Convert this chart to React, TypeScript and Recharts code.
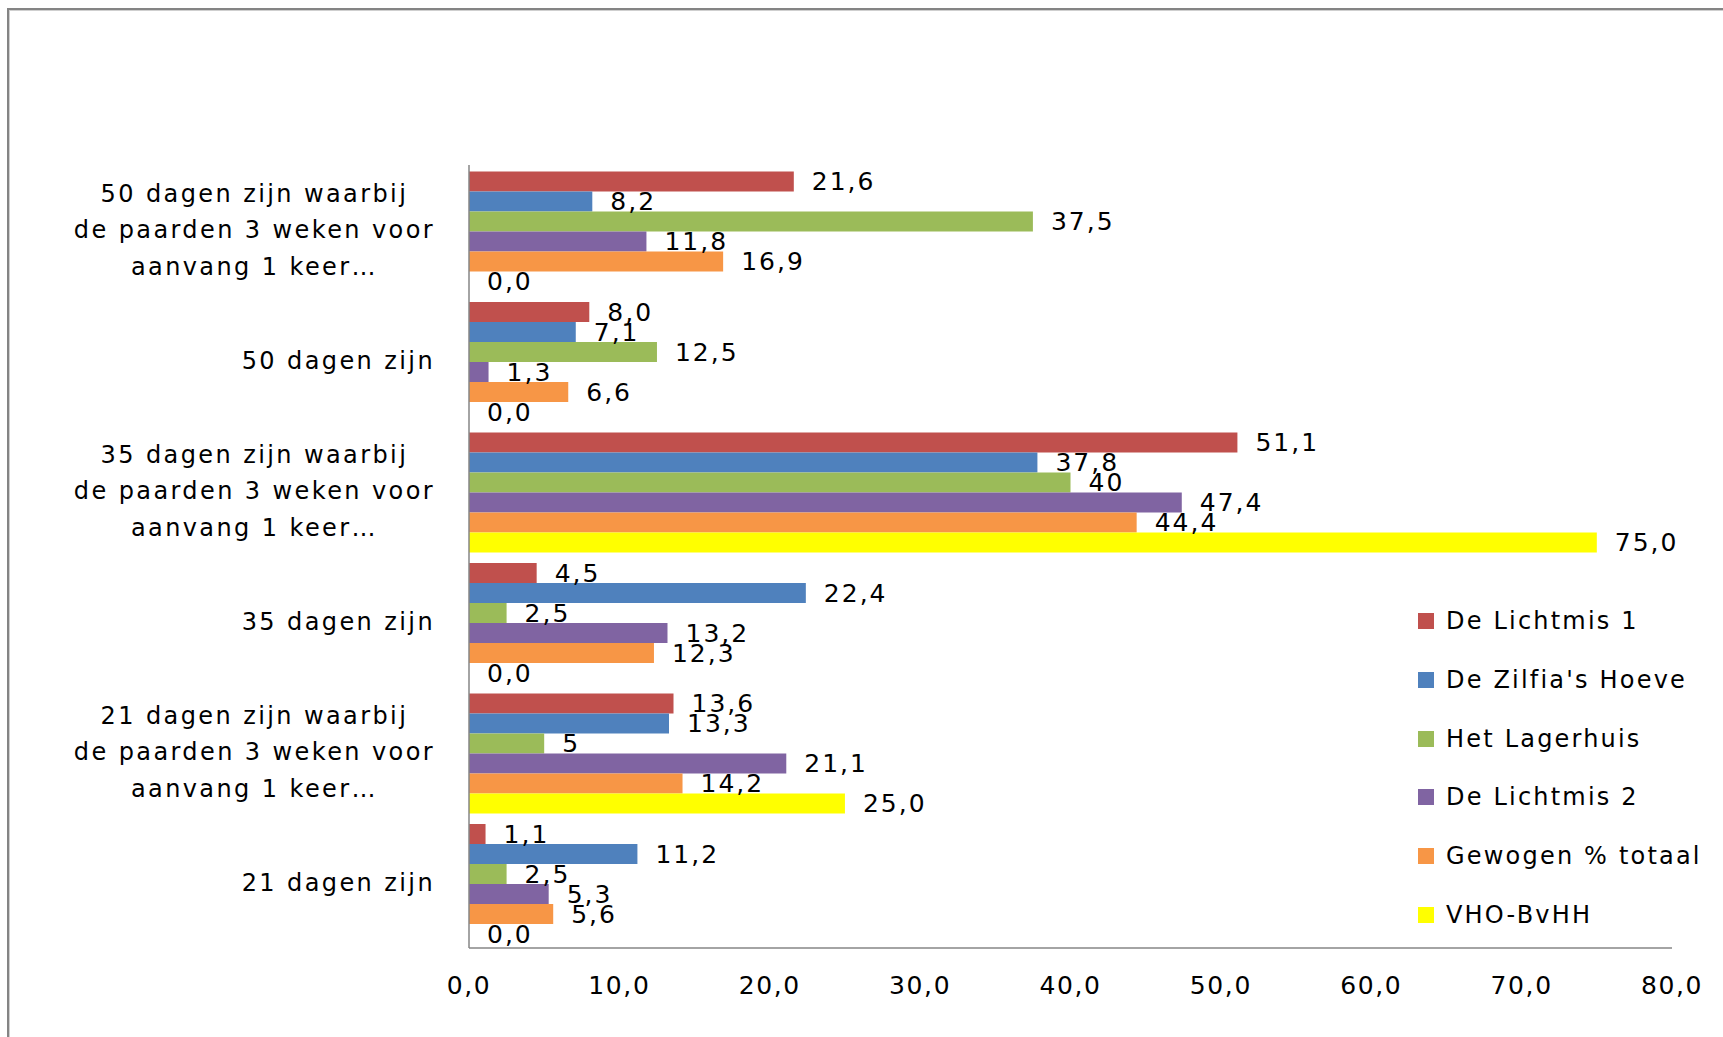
import { BarChart, Bar, XAxis, YAxis, Legend, LabelList } from 'recharts';

const categories = [
  '50 dagen zijn waarbij\nde paarden 3 weken voor\naanvang 1 keer…',
  '50 dagen zijn',
  '35 dagen zijn waarbij\nde paarden 3 weken voor\naanvang 1 keer…',
  '35 dagen zijn',
  '21 dagen zijn waarbij\nde paarden 3 weken voor\naanvang 1 keer…',
  '21 dagen zijn',
];

const lichtmis1 = [21.6, 8.0, 51.1, 4.5, 13.6, 1.1];
const zilfia = [8.2, 7.1, 37.8, 22.4, 13.3, 11.2];
const lagerhuis = [37.5, 12.5, 40, 2.5, 5, 2.5];
const lagerhuisLabels = ['37,5', '12,5', '40', '2,5', '5', '2,5'];
const lichtmis2 = [11.8, 1.3, 47.4, 13.2, 21.1, 5.3];
const gewogen = [16.9, 6.6, 44.4, 12.3, 14.2, 5.6];
const vho = [0.0, 0.0, 75.0, 0.0, 25.0, 0.0];

const xTicks = [0, 10, 20, 30, 40, 50, 60, 70, 80];

const series = [
  { key: 's1', name: 'De Lichtmis 1', color: '#C0504D', values: lichtmis1 },
  { key: 's2', name: "De Zilfia's Hoeve", color: '#4F81BD', values: zilfia },
  { key: 's3', name: 'Het Lagerhuis', color: '#9BBB59', values: lagerhuis, labels: lagerhuisLabels },
  { key: 's4', name: 'De Lichtmis 2', color: '#8064A2', values: lichtmis2 },
  { key: 's5', name: 'Gewogen % totaal', color: '#F79646', values: gewogen },
  { key: 's6', name: 'VHO-BvHH', color: '#FFFF00', values: vho },
];

const FONT = 'DejaVu Sans, Verdana, sans-serif';
const fmt = (v: number) => v.toFixed(1).replace('.', ',');

const data = categories.map((name, i) => {
  const row: Record<string, any> = { name };
  series.forEach((s) => {
    row[s.key] = s.values[i];
    row[s.key + '_label'] = s.labels ? s.labels[i] : fmt(s.values[i]);
  });
  return row;
});

let canvas: HTMLCanvasElement | null = null;
function textWidth(text: string, size: number, spacing: number) {
  if (!canvas) canvas = document.createElement('canvas');
  const ctx = canvas.getContext('2d')!;
  ctx.font = `${size}px "DejaVu Sans"`;
  return ctx.measureText(text).width + spacing * text.length;
}

function YTick({ x, y, payload }: any) {
  const lines = String(payload.value).split('\n');
  const size = 24;
  const spacing = 2.4;
  const lineH = 36.3;
  const blockW = Math.max(...lines.map((l) => textWidth(l, size, spacing)));
  const cx = x - blockW / 2;
  const y0 = y - ((lines.length - 1) * lineH) / 2;
  return (
    <g>
      {lines.map((l, i) => (
        <text
          key={i}
          x={cx}
          y={y0 + i * lineH}
          textAnchor="middle"
          dominantBaseline="central"
          fontFamily={FONT}
          fontSize={size}
          letterSpacing={spacing}
          fill="#000"
        >
          {l}
        </text>
      ))}
    </g>
  );
}

function XTick({ x, y, payload }: any) {
  return (
    <text
      x={x}
      y={y}
      textAnchor="middle"
      dominantBaseline="central"
      fontFamily={FONT}
      fontSize={25}
      letterSpacing={1.6}
      fill="#000"
    >
      {fmt(payload.value)}
    </text>
  );
}

function BarLabel(props: any) {
  const { x, y, width, height, value } = props;
  return (
    <text
      x={x + width + 18}
      y={y + height / 2}
      dominantBaseline="central"
      fontFamily={FONT}
      fontSize={25}
      letterSpacing={2}
      fill="#000"
    >
      {value}
    </text>
  );
}

function LegendBox() {
  return (
    <div style={{ fontFamily: FONT, fontSize: 24, letterSpacing: 2.2, color: '#000' }}>
      {series.map((s) => (
        <div key={s.key} style={{ height: 58.7, display: 'flex', alignItems: 'center' }}>
          <span style={{ width: 16, height: 16, background: s.color, marginRight: 12, display: 'inline-block' }} />
          <span style={{ whiteSpace: 'nowrap' }}>{s.name}</span>
        </div>
      ))}
    </div>
  );
}

export default function App() {
  return (
    <div style={{ position: 'fixed', left: 0, top: 0, width: 1723, height: 1037, overflow: 'hidden', background: '#fff' }}>
      <div
        style={{
          position: 'absolute',
          left: 7,
          top: 8,
          width: 1760,
          height: 1060,
          borderLeft: '2px solid #848484',
          borderTop: '2px solid #848484',
          boxShadow: 'inset 1px 1px 0 #cfcfcf',
        }}
      >
        <BarChart
          width={1700}
          height={1015}
          data={data}
          layout="vertical"
          margin={{ top: 155, right: 37, bottom: 0, left: 0 }}
          barCategoryGap={6.5}
          barGap={0}
        >
          <XAxis
            type="number"
            domain={[0, 80]}
            ticks={xTicks}
            tickSize={0}
            tickMargin={37}
            tick={<XTick />}
            height={77}
            axisLine={{ stroke: '#868686', strokeWidth: 1.5 }}
            tickLine={false}
          />
          <YAxis
            type="category"
            dataKey="name"
            width={460}
            tickSize={0}
            tickMargin={34}
            tick={<YTick />}
            axisLine={{ stroke: '#868686', strokeWidth: 1.5 }}
            tickLine={false}
            interval={0}
          />
          <Legend
            layout="vertical"
            align="center"
            verticalAlign="middle"
            content={<LegendBox />}
            wrapperStyle={{ left: 1409, top: 582, width: 300, height: 360 }}
          />
          {series.map((s) => (
            <Bar
              key={s.key}
              dataKey={s.key}
              name={s.name}
              fill={s.color}
              minPointSize={0.01}
              isAnimationActive={false}
            >
              <LabelList dataKey={s.key + '_label'} content={<BarLabel />} />
            </Bar>
          ))}
        </BarChart>
      </div>
    </div>
  );
}
